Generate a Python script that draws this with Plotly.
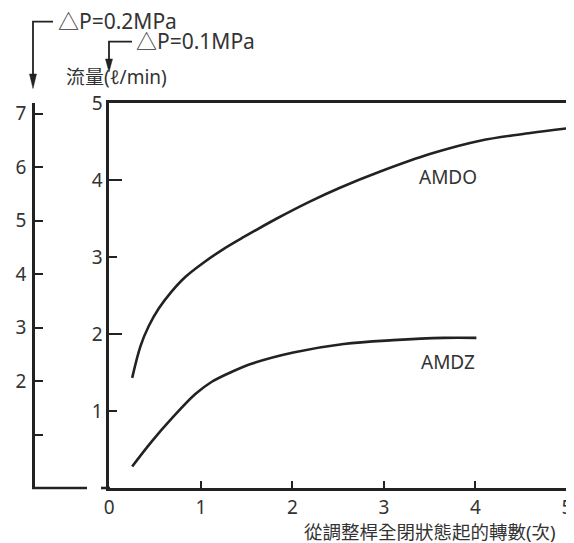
import plotly.graph_objects as go

# ---- data ----
turns_amdo = [0.25, 0.34, 0.43, 0.54, 0.68, 0.83, 1.01, 1.23, 1.47, 1.83, 2.19, 2.52, 2.96, 3.51, 4.05, 4.60, 5.00]
flow_amdo  = [1.43, 1.84, 2.10, 2.33, 2.55, 2.74, 2.91, 3.09, 3.26, 3.50, 3.72, 3.90, 4.11, 4.34, 4.51, 4.61, 4.67]
turns_amdz = [0.25, 0.46, 0.68, 0.94, 1.12, 1.34, 1.57, 2.01, 2.56, 3.10, 3.65, 4.01]
flow_amdz  = [0.28, 0.60, 0.90, 1.22, 1.38, 1.51, 1.62, 1.76, 1.87, 1.92, 1.95, 1.95]

x_ticks = [0, 1, 2, 3, 4, 5]
y_ticks_01 = [1, 2, 3, 4, 5]           # ΔP = 0.1 MPa scale
y_ticks_02 = [1, 2, 3, 4, 5, 6, 7]     # ΔP = 0.2 MPa scale
y_ticks_02_text = ["", "2", "3", "4", "5", "6", "7"]

# the page body has an 8px margin, so the figure starts at (8, 8)
OFF = 8
W, H = 574 - OFF, 543 - OFF
FONT = "Noto Sans, Noto Sans CJK TC, sans-serif"
TXT = "#333333"
LINE = "#222222"


def px(x):
    return (x - OFF) / W


def py(y):
    return 1 - (y - OFF) / H


fig = go.Figure()
for xs, ys in [(turns_amdo, flow_amdo), (turns_amdz, flow_amdz)]:
    fig.add_trace(go.Scatter(x=xs, y=ys, mode="lines",
                             line=dict(color=LINE, width=2.6, shape="spline", smoothing=1.0),
                             showlegend=False, hoverinfo="skip"))

fig.add_trace(go.Scatter(x=[0], y=[0], yaxis="y2", mode="markers",
                         marker=dict(opacity=0), showlegend=False, hoverinfo="skip"))
fig.add_trace(go.Scatter(x=[0], y=[0], yaxis="y3", mode="markers",
                         marker=dict(opacity=0), showlegend=False, hoverinfo="skip"))

x_dom = [px(109.3), px(567)]
y_dom = [py(488), py(103)]

fig.update_layout(
    width=W, height=H,
    margin=dict(l=0, r=0, t=0, b=0, autoexpand=False),
    paper_bgcolor="white", plot_bgcolor="white",
    font=dict(family=FONT, size=18, color=TXT),
    xaxis=dict(domain=x_dom, range=[0, 5], tickvals=x_ticks,
               ticks="inside", ticklen=7, tickwidth=2, tickcolor=LINE,
               showline=True, linewidth=2.6, linecolor=LINE, mirror=True,
               showgrid=False, zeroline=False, automargin=False,
               ticklabelstandoff=0,
               tickfont=dict(size=19, color=TXT)),
    yaxis=dict(domain=y_dom, range=[0, 5], tickvals=y_ticks_01,
               ticks="inside", ticklen=8, tickwidth=2.2, tickcolor=LINE,
               showline=True, linewidth=2.6, linecolor=LINE, mirror=True,
               showgrid=False, zeroline=False, automargin=False,
               tickfont=dict(size=19, color=TXT)),
    yaxis2=dict(overlaying="y", anchor="free", position=px(33), side="left",
                range=[0, 7.2], tickvals=y_ticks_02, ticktext=y_ticks_02_text,
                ticks="inside", ticklen=8, tickwidth=2.2, tickcolor=LINE,
                showline=True, linewidth=2.6, linecolor=LINE,
                showgrid=False, zeroline=False, automargin=False,
                ticklabelstandoff=2,
                tickfont=dict(size=19, color=TXT)),
    yaxis3=dict(overlaying="y", anchor="x", side="left", range=[0, 5],
                tickvals=[2, 4], ticks="inside", ticklen=13, tickwidth=2.2,
                tickcolor=LINE, showticklabels=False, showline=False,
                showgrid=False, zeroline=False, automargin=False),
)

shapes = [
    dict(type="line", xref="paper", yref="paper", x0=px(32), x1=px(87), y0=py(488), y1=py(488),
         line=dict(color=LINE, width=2.6)),
    dict(type="line", xref="paper", yref="paper", x0=px(101), x1=px(110), y0=py(488), y1=py(488),
         line=dict(color=LINE, width=2.6)),
    dict(type="path", xref="paper", yref="paper",
         path=f"M {px(53)} {py(21.7)} L {px(33)} {py(21.7)} L {px(33)} {py(76)}",
         line=dict(color=LINE, width=1.8)),
    dict(type="path", xref="paper", yref="paper",
         path=f"M {px(29.5)} {py(74)} L {px(36.5)} {py(74)} L {px(33)} {py(88.5)} Z",
         line=dict(color=LINE, width=0.5), fillcolor=LINE),
    dict(type="path", xref="paper", yref="paper",
         path=f"M {px(132)} {py(41.7)} L {px(109)} {py(41.7)} L {px(109)} {py(61)}",
         line=dict(color=LINE, width=1.8)),
    dict(type="path", xref="paper", yref="paper",
         path=f"M {px(105.5)} {py(59)} L {px(112.5)} {py(59)} L {px(109)} {py(72)} Z",
         line=dict(color=LINE, width=0.5), fillcolor=LINE),
]
fig.update_layout(shapes=shapes)

ann = [
    dict(text="△P=0.2MPa", x=px(56), y=py(21), size=21),
    dict(text="△P=0.1MPa", x=px(134), y=py(41.5), size=21),
    dict(text="流量(ℓ/min)", x=px(64), y=py(77), size=19),
]
annotations = [dict(text=a["text"], x=a["x"], y=a["y"], xanchor="left", yanchor="middle",
                    xref="paper", yref="paper", showarrow=False,
                    font=dict(family=FONT, size=a["size"], color=TXT)) for a in ann]
annotations += [
    dict(text="從調整桿全閉狀態起的轉數(次)", x=px(558), y=py(531), xanchor="right", yanchor="middle",
         xref="paper", yref="paper", showarrow=False,
         font=dict(family=FONT, size=18.5, color=TXT)),
    dict(text="AMDO", x=3.70, y=4.04, xref="x", yref="y", showarrow=False,
         font=dict(family=FONT, size=19, color=TXT)),
    dict(text="AMDZ", x=3.70, y=1.64, xref="x", yref="y", showarrow=False,
         font=dict(family=FONT, size=19, color=TXT)),
]
fig.update_layout(annotations=annotations)

fig.write_html("out.html")
